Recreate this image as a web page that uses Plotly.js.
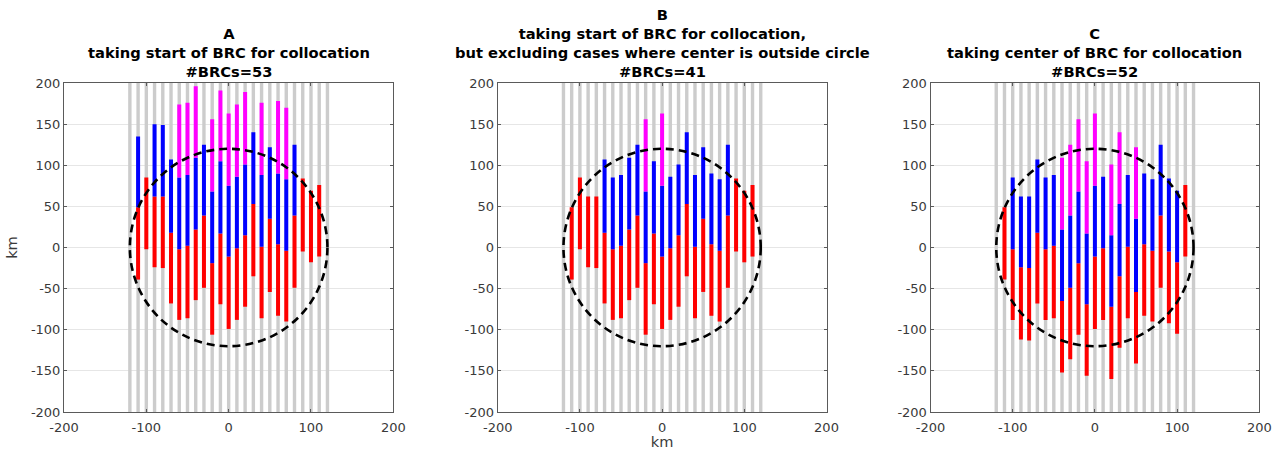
<!DOCTYPE html>
<html>
<head>
<meta charset="utf-8">
<script src="https://cdn.plot.ly/plotly-3.0.1.min.js"></script>
<style>html,body{margin:0;padding:0;background:#fff;}#chart{width:1280px;height:450px;}</style>
</head>
<body>
<div id="chart"></div>
<script>
// ---------------- data ----------------
const colX  = [-110,-100,-90,-80,-70,-60,-50,-40,-30,-20,-10,0,10,20,30,40,50,60,70,80,90,100,110];
const grayX = [-120,-110,-100,-90,-80,-70,-60,-50,-40,-30,-20,-10,0,10,20,30,40,50,60,70,80,90,100,110,120];
const grayLo = -200, grayHi = 200;
const circleRadius = 120;

// Panel A
const redLoA  = [-39,-2,-24,-25,-68,-88,-86,-64,-49,-106,-69,-99,-88,-72,-35,-86,-54,-83,-90,-49,-5,-18,-11];
const redHiA  = [49,85,62,62,18,-2,2,22,39,-19,17,-11,-1,15,53,1,35,4,-4,39,84,69,76];
const blueHiA = [135,null,150,149,107,85,88,109,125,68,105,75,86,101,140,88,122,90,83,125,null,null,null];
const magHiA  = [null,null,null,null,null,174,176,196,null,156,191,163,174,189,null,176,null,178,170,null,null,null,null];

// Panel B
const redLoB  = [-39,-2,-24,-25,-68,-88,-86,-64,-49,-106,-69,-99,-88,-72,-35,-86,-54,-83,-90,-49,-5,-18,-11];
const redHiB  = [49,85,62,62,18,-2,2,22,39,-19,17,-11,-1,15,53,1,35,4,-4,39,84,69,76];
const blueHiB = [null,null,null,null,107,85,88,109,125,68,105,75,86,101,140,88,122,90,83,125,null,null,null];
const magHiB  = [null,null,null,null,null,null,null,null,null,156,null,163,null,null,null,null,null,null,null,null,null,null,null];

// Panel C
const redLoC  = [-39,-88,-112,-113,-68,-88,-86,-152,-136,-106,-156,-99,-88,-160,-122,-86,-141,-83,-90,-49,-92,-105,-11];
const redHiC  = [49,-2,-24,-25,18,-2,2,-65,-49,-19,-69,-11,-1,-72,-35,1,-54,4,-4,39,-5,-18,76];
const blueHiC = [null,85,62,62,107,85,88,22,39,68,17,75,86,15,53,88,35,90,83,125,84,69,null];
const magHiC  = [null,null,null,null,null,null,null,109,125,156,105,163,null,101,140,null,122,null,null,null,null,null,null];

const titles = [
  "A<br>taking start of BRC for collocation<br>#BRCs=53",
  "B<br>taking start of BRC for collocation,<br>but excluding cases where center is outside circle<br>#BRCs=41",
  "C<br>taking center of BRC for collocation<br>#BRCs=52"
];
const xTicks = [-200,-100,0,100,200];
const yTicks = [-200,-150,-100,-50,0,50,100,150,200];

// ---------------- build ----------------
function segs(xs, lo, hi) {
  const X = [], Y = [];
  for (let i = 0; i < xs.length; i++) {
    const a = Array.isArray(lo) ? lo[i] : lo;
    const b = Array.isArray(hi) ? hi[i] : hi;
    if (a === null || b === null || a === undefined || b === undefined) continue;
    X.push(xs[i], xs[i], null);
    Y.push(a, b, null);
  }
  return {x: X, y: Y};
}

const panels = [
  {lo: redLoA, rh: redHiA, bh: blueHiA, mh: magHiA},
  {lo: redLoB, rh: redHiB, bh: blueHiB, mh: magHiB},
  {lo: redLoC, rh: redHiC, bh: blueHiC, mh: magHiC}
];

const traces = [];
const shapes = [];
const annotations = [];
const domains = [[64/1280, 393.3/1280], [497.7/1280, 826.5/1280], [930.5/1280, 1259.3/1280]];
const layout = {
  width: 1280, height: 450,
  margin: {l: 0, r: 0, t: 83, b: 37.5, pad: 0},
  paper_bgcolor: '#ffffff', plot_bgcolor: '#ffffff',
  showlegend: false, hovermode: false,
  font: {family: 'DejaVu Sans, sans-serif', size: 13, color: '#333333'}
};

panels.forEach((p, k) => {
  const sfx = k === 0 ? '' : String(k + 1);
  const xa = 'x' + sfx, ya = 'y' + sfx;
  const g = segs(grayX, grayLo, grayHi);
  traces.push({type: 'scatter', mode: 'lines', x: g.x, y: g.y, xaxis: xa, yaxis: ya,
    line: {color: '#cccccc', width: 3.4}, connectgaps: false});
  const r = segs(colX, p.lo, p.rh);
  traces.push({type: 'scatter', mode: 'lines', x: r.x, y: r.y, xaxis: xa, yaxis: ya,
    line: {color: '#ff0000', width: 4}, connectgaps: false});
  const b = segs(colX, p.rh, p.bh);
  traces.push({type: 'scatter', mode: 'lines', x: b.x, y: b.y, xaxis: xa, yaxis: ya,
    line: {color: '#0000ff', width: 4}, connectgaps: false});
  const m = segs(colX, p.bh, p.mh);
  traces.push({type: 'scatter', mode: 'lines', x: m.x, y: m.y, xaxis: xa, yaxis: ya,
    line: {color: '#ff00ff', width: 4}, connectgaps: false});

  shapes.push({type: 'circle', xref: xa, yref: ya,
    x0: -circleRadius, x1: circleRadius, y0: -circleRadius, y1: circleRadius,
    line: {color: '#000000', width: 2.6, dash: '8px,5px'}, layer: 'above'});

  const common = {
    range: [-200, 200], showline: true, linecolor: '#5a5a5a', linewidth: 1, mirror: 'ticks',
    ticks: 'inside', ticklen: 3, tickcolor: '#5a5a5a', zeroline: false,
    tickfont: {family: 'DejaVu Sans, sans-serif', size: 13, color: '#3a3a3a'},
    fixedrange: true, automargin: false
  };
  layout['xaxis' + sfx] = Object.assign({}, common, {
    domain: domains[k], anchor: ya, tickvals: xTicks, ticktext: xTicks.map(String), showgrid: false,
    ticklabelstandoff: 3,
    title: k === 1 ? {text: 'km', font: {size: 14.6, color: '#3a3a3a'}, standoff: 0} : {text: ''}
  });
  layout['yaxis' + sfx] = Object.assign({}, common, {
    domain: [0, 1], anchor: xa, tickvals: yTicks, ticktext: yTicks.map(String),
    showgrid: true, gridcolor: '#e6e6e6', gridwidth: 1,
    title: k === 0 ? {text: 'km', font: {size: 14.6, color: '#3a3a3a'}, standoff: 9} : {text: ''}
  });

  annotations.push({text: titles[k], xref: 'paper', yref: 'paper',
    x: (domains[k][0] + domains[k][1]) / 2, y: 1, xanchor: 'center', yanchor: 'bottom',
    yshift: 1, showarrow: false,
    font: {family: 'DejaVu Sans, sans-serif', size: 14.7, color: '#000000', weight: 'bold'}});
});

layout.shapes = shapes;
layout.annotations = annotations;

Plotly.newPlot('chart', traces, layout, {staticPlot: true, displayModeBar: false});
</script>
</body>
</html>
